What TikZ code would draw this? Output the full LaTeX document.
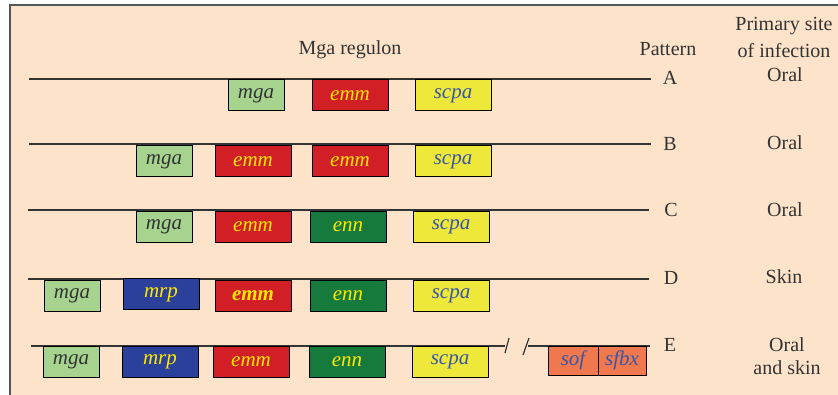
\documentclass[tikz,border=0pt]{standalone}
\usepackage{fontspec}
\setmainfont{Liberation Serif}
\definecolor{peach}{HTML}{FDE3CA}
\definecolor{framegray}{HTML}{555555}
\definecolor{txtgray}{HTML}{333333}
\definecolor{mgagreen}{HTML}{A6D48F}
\definecolor{emmred}{HTML}{D21F26}
\definecolor{enngreen}{HTML}{157A3B}
\definecolor{scpayellow}{HTML}{EDE83A}
\definecolor{mrpblue}{HTML}{2A409A}
\definecolor{soforange}{HTML}{F0784F}
\definecolor{yeltext}{HTML}{FFE800}
\definecolor{bluetext}{HTML}{3A56A5}
\tikzset{
  gene/.style={draw=black, line width=1pt, minimum height=31pt, inner sep=0pt, outer sep=0pt,
    font=\fontsize{21}{23}\selectfont\itshape},
  mgabox/.style={gene, fill=mgagreen, text=txtgray, minimum width=56pt},
  emmbox/.style={gene, fill=emmred, text=yeltext, minimum width=76pt},
  ennbox/.style={gene, fill=enngreen, text=yeltext, minimum width=76pt},
  scpabox/.style={gene, fill=scpayellow, text=bluetext, minimum width=76pt},
  mrpbox/.style={gene, fill=mrpblue, text=yeltext, minimum width=76pt},
  sofbox/.style={gene, fill=soforange, text=bluetext, minimum height=29pt},
  rail/.style={draw=txtgray, line width=1.2pt},
  lbl/.style={text=txtgray, font=\fontsize{20}{23}\selectfont, inner sep=0pt, anchor=base, align=center},
}
\begin{document}
\begin{tikzpicture}[x=1pt,y=-1pt]
\useasboundingbox (0,0) rectangle (838,395);
\clip (0,0) rectangle (838,395);
\fill[white] (0,0) rectangle (838,395);
\draw[draw=framegray, fill=peach, line width=1.5pt] (10,5) rectangle (860,420);

% headers
\node[lbl] (title) at (350,55) {Mga regulon};
\node[lbl] (pattern) at (668,56) {Pattern};
\node[lbl] (site1) at (784,31) {Primary site};
\node[lbl] (site2) at (784,58) {of infection};

% pattern letters and sites
\node[lbl] (A) at (670,85) {A};
\node[lbl] (B) at (670,151) {B};
\node[lbl] (C) at (671,217) {C};
\node[lbl] (D) at (671,285) {D};
\node[lbl] (E) at (670,352) {E};
\node[lbl] (sA) at (785,82) {Oral};
\node[lbl] (sB) at (785,150) {Oral};
\node[lbl] (sC) at (785,217) {Oral};
\node[lbl] (sD) at (784,284) {Skin};
\node[lbl] (sE1) at (787,351) {Oral};
\node[lbl] (sE2) at (787,374) {and skin};

% rails
\coordinate (a0) at (29,79);  \coordinate (a1) at (651,79);
\coordinate (b0) at (29,144); \coordinate (b1) at (651,144);
\coordinate (c0) at (28,210); \coordinate (c1) at (649,210);
\coordinate (d0) at (28,279); \coordinate (d1) at (649,279);
\coordinate (e0) at (31,346); \coordinate (e1) at (505,346);
\coordinate (e2) at (528,346); \coordinate (e3) at (650,346);
\draw[rail] (a0) -- (a1);
\draw[rail] (b0) -- (b1);
\draw[rail] (c0) -- (c1);
\draw[rail] (d0) -- (d1);
\draw[rail] (e0) -- (e1);
\draw[rail] (e2) -- (e3);
\coordinate (k1a) at (505,353); \coordinate (k1b) at (509,338);
\coordinate (k2a) at (523,355); \coordinate (k2b) at (529,338);
\draw[rail] (k1a) -- (k1b);
\draw[rail] (k2a) -- (k2b);

% row A
\node[mgabox] (mgaA) at (256,95.5) {mga};
\node[emmbox] (emmA) at (350,95.5) {emm};
\node[scpabox] (scpaA) at (453,95.5) {scpa};
% row B
\node[mgabox] (mgaB) at (164,161.5) {mga};
\node[emmbox] (emmB1) at (253,161.5) {emm};
\node[emmbox] (emmB2) at (350,161.5) {emm};
\node[scpabox] (scpaB) at (453,161.5) {scpa};
% row C
\node[mgabox] (mgaC) at (164,227) {mga};
\node[emmbox] (emmC) at (253,227) {emm};
\node[ennbox] (ennC) at (348,227) {enn};
\node[scpabox] (scpaC) at (451,227) {scpa};
% row D
\node[mgabox] (mgaD) at (72,296) {mga};
\node[mrpbox] (mrpD) at (161,294.5) {mrp};
\node[emmbox, font=\fontsize{21}{23}\selectfont\itshape\bfseries] (emmD) at (253,296) {emm};
\node[ennbox] (ennD) at (348,296) {enn};
\node[scpabox] (scpaD) at (451,296) {scpa};
% row E
\node[mgabox] (mgaE) at (71,361.5) {mga};
\node[mrpbox] (mrpE) at (160,361.5) {mrp};
\node[emmbox] (emmE) at (251,361.5) {emm};
\node[ennbox] (ennE) at (347,361.5) {enn};
\node[scpabox] (scpaE) at (450,361.5) {scpa};
\node[sofbox, minimum width=50pt] (sofE) at (573,360.5) {sof};
\node[sofbox, minimum width=48pt] (sfbxE) at (622,360.5) {sfbx};
\end{tikzpicture}
\end{document}
